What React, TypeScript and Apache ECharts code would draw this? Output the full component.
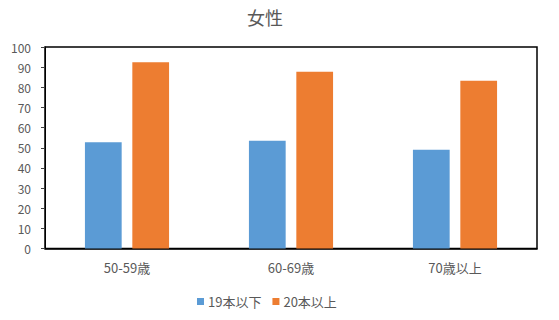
import React, { useEffect, useRef } from "react";
import * as echarts from "echarts";

const categories = ["50-59歳", "60-69歳", "70歳以上"];
const seriesNames = ["19本以下", "20本以上"];
const under19 = [52.7, 53.5, 49.0];
const over20 = [92.4, 87.7, 83.2];
const yTicks = { min: 0, max: 100, interval: 10 };

const FONT = "'Noto Sans CJK JP', 'Noto Sans', sans-serif";

export default function App() {
  const ref = useRef<HTMLDivElement>(null);
  useEffect(() => {
    if (!ref.current) return;
    const chart = echarts.init(ref.current, null, { renderer: "svg" });
    chart.setOption({
      animation: false,
      backgroundColor: "#ffffff",
      textStyle: { fontFamily: FONT },
      title: {
        text: "女性",
        left: 260,
        textAlign: "center",
        top: 3,
        textStyle: { fontFamily: FONT, fontSize: 18, fontWeight: "normal", color: "#595959" },
      },
      legend: {
        data: seriesNames,
        left: 192,
        top: 290,
        itemWidth: 7,
        itemHeight: 7,
        itemGap: 11,
        icon: "rect",
        textStyle: { fontFamily: FONT, fontSize: 13, color: "#595959", padding: [0, 0, 0, -1] },
      },
      grid: {
        left: 45,
        right: 22,
        top: 47,
        bottom: 71.5,
        show: true,
        borderColor: "#000000",
        borderWidth: 1.5,
        backgroundColor: "transparent",
      },
      xAxis: {
        type: "category",
        data: categories,
        axisLine: { show: true, lineStyle: { color: "#000000", width: 1.5 } },
        axisTick: { show: false },
        axisLabel: { interval: 0, margin: 12, fontFamily: FONT, fontSize: 13, color: "#595959" },
      },
      yAxis: {
        type: "value",
        min: yTicks.min,
        max: yTicks.max,
        interval: yTicks.interval,
        axisLine: { show: true, lineStyle: { color: "#000000", width: 1 } },
        axisTick: { show: true, length: 4, lineStyle: { color: "#404040" } },
        splitLine: { show: false },
        axisLabel: { margin: 14, fontFamily: FONT, fontSize: 12, color: "#595959" },
      },
      series: [
        {
          name: seriesNames[0],
          type: "bar",
          data: under19,
          barWidth: "22.4%",
          barGap: "29%",
          itemStyle: { color: "#5B9BD5" },
        },
        {
          name: seriesNames[1],
          type: "bar",
          data: over20,
          barWidth: "22.4%",
          itemStyle: { color: "#ED7D31" },
        },
      ],
    });
    return () => chart.dispose();
  }, []);
  return (
    <div
      ref={ref}
      style={{ position: "fixed", left: 0, top: 0, width: 559, height: 320, background: "#fff" }}
    />
  );
}
